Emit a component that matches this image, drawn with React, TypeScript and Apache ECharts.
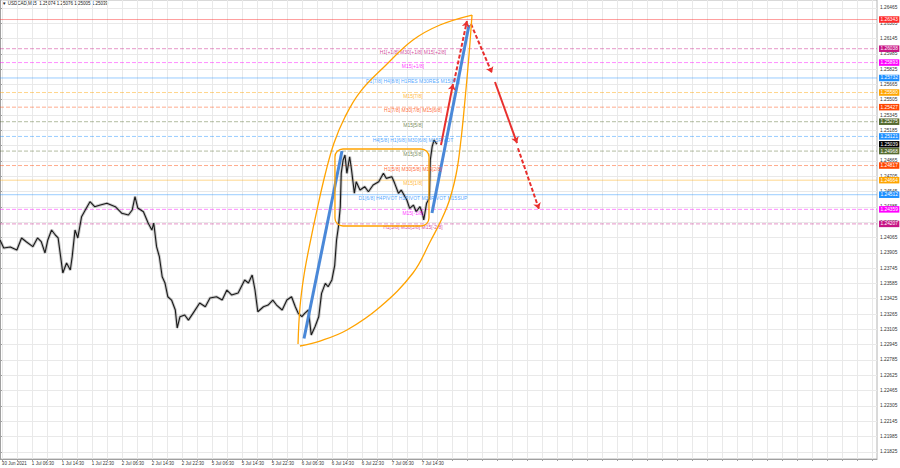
import React, { useEffect, useRef } from 'react';
import * as echarts from 'echarts';

const FONT = 'Liberation Sans';

const titleText = '▼ USDCAD,M15  1.25074 1.25076 1.25005 1.25039';

const xLabels = ['30 Jun 2021', '1 Jul 06:30', '1 Jul 14:30', '1 Jul 22:30', '2 Jul 06:30', '2 Jul 14:30', '2 Jul 22:30', '5 Jul 06:30', '5 Jul 14:30', '5 Jul 22:30', '6 Jul 06:30', '6 Jul 14:30', '6 Jul 22:30', '7 Jul 06:30', '7 Jul 14:30'];

const yTicks = [1.21825, 1.21985, 1.22145, 1.22305, 1.22465, 1.22625, 1.22785, 1.22945, 1.23105, 1.23265, 1.23425, 1.23585, 1.23745, 1.23905, 1.24065, 1.24225, 1.24385, 1.24545, 1.24705, 1.24865, 1.25025, 1.25185, 1.25345, 1.25505, 1.25665, 1.25825, 1.25985, 1.26145, 1.26305, 1.26465];

// M15 bar index, price
const pricePath: [number, number][] = [
  [0, 1.24039], [4, 1.23955], [11, 1.23965], [18, 1.23934], [23, 1.2406], [28, 1.24021], [35, 1.23969], [40, 1.2406],
  [44, 1.24021], [48, 1.23903], [51, 1.24039], [55, 1.24143], [59, 1.24091], [62, 1.2406], [67, 1.23694], [71, 1.23798],
  [75, 1.23725], [77, 1.23864], [80, 1.24143], [83, 1.2406], [87, 1.24282], [91, 1.24352], [96, 1.24439], [101, 1.24387],
  [107, 1.24404], [114, 1.24422], [123, 1.24387], [130, 1.24318], [137, 1.243], [141, 1.24352], [144, 1.24491], [147, 1.24373],
  [153, 1.24334], [158, 1.24216], [162, 1.24143], [164, 1.24216], [167, 1.23969], [170, 1.23864], [173, 1.23655], [176, 1.23589],
  [179, 1.23446], [183, 1.23411], [187, 1.23307], [189, 1.23119], [192, 1.23237], [197, 1.23255], [201, 1.23201], [206, 1.23275],
  [213, 1.2338], [219, 1.23341], [224, 1.23432], [231, 1.23446], [237, 1.23411], [242, 1.23516], [247, 1.23464], [254, 1.23485],
  [261, 1.23621], [265, 1.23589], [269, 1.23673], [272, 1.23516], [275, 1.23289], [281, 1.23341], [286, 1.23359], [291, 1.23411],
  [295, 1.23359], [301, 1.23307], [306, 1.23411], [311, 1.23446], [315, 1.23341], [318, 1.23275], [322, 1.23237], [325, 1.23272],
  [329, 1.23307], [332, 1.23046], [336, 1.23132], [340, 1.23237], [343, 1.23481], [347, 1.23586], [350, 1.2355], [354, 1.23621],
  [357, 1.23771], [359, 1.24039], [361, 1.24178], [363, 1.24387], [364, 1.24736], [366, 1.24875], [368, 1.24927], [370, 1.24736],
  [373, 1.24909], [375, 1.2477], [378, 1.24527], [380, 1.24648], [384, 1.24561], [389, 1.24596], [393, 1.24543], [398, 1.24613],
  [404, 1.24648], [409, 1.24736], [412, 1.24683], [418, 1.247], [421, 1.24631], [425, 1.24527], [428, 1.24561], [434, 1.24457],
  [437, 1.2437], [441, 1.24404], [444, 1.24334], [448, 1.24387], [451, 1.243], [452, 1.24248], [455, 1.24422], [458, 1.24474],
  [459, 1.24875], [461, 1.25014], [463, 1.25084], [466, 1.25039],
];

const levelValues = [1.26343, 1.26038, 1.25893, 1.25732, 1.2558, 1.25427, 1.25275, 1.25121, 1.25039, 1.24968, 1.24817, 1.24664, 1.24512, 1.24359, 1.24207];
const levelNames = ['', 'H1[+1/8] M30[+1/8] M15[+2/8]', 'M15[+1/8]', 'D1[7/8] H4[8/8] H1RES M30RES M15[8/8]', 'M15[7/8]', 'H1[7/8] M30[7/8] M15[6/8]', 'M15[5/8]', 'H4[5/8] H1[6/8] M30[6/8] M15PIVOT', '', 'M15[3/8]', 'H1[5/8] M30[5/8] M15[2/8]', 'M15[1/8]', 'D1[6/8] H4PIVOT H1PIVOT M30PIVOT M15SUP', 'M15[-1/8]', 'H1[3/8] M30[3/8] M15[-2/8]'];
const levelColors = ['#ff2a2a', '#c71585', '#ff00ff', '#1e90ff', '#ffa500', '#ff4500', '#556b2f', '#1e90ff', '#000000', '#556b2f', '#ff4500', '#ffa500', '#1e90ff', '#ff00ff', '#c71585'];
const levelSolid = [true, false, false, true, false, false, false, false, true, false, false, true, true, false, false];
const levelLineShown = [true, true, true, true, true, true, true, true, false, true, true, true, true, true, true];
const levelTextBar = 440.5;

const outerCurveA: [number, number][] = [
  [317.9, 1.22952], [320.0, 1.23338], [324.3, 1.23673], [330.7, 1.24007], [338.1, 1.24352], [346.7, 1.24718], [356.3, 1.25052],
  [368.0, 1.25324], [384.0, 1.25585], [410.7, 1.25857], [440.5, 1.26129], [469.3, 1.26286], [503.5, 1.2639],
];
const outerCurveB: [number, number][] = [
  [320.0, 1.22931], [341.3, 1.22983], [370.1, 1.23098], [405.3, 1.23338], [440.5, 1.23694], [458.7, 1.24018], [476.8, 1.24383],
  [486.4, 1.24718], [491.7, 1.25084], [496.0, 1.25502], [500.3, 1.25972], [503.5, 1.2639],
];
const rangeBox = [357.3, 1.2499, 457.6, 1.24185];

const blueSegments: [number, number, number, number][] = [
  [324.3, 1.23009, 364.8, 1.24969],
  [460.8, 1.24321, 500.3, 1.26286],
];
// x1, y1, x2, y2, dashed
const redSegments: [number, number, number, number, boolean][] = [
  [470.4, 1.25031, 483.2, 1.25669, false],
  [484.3, 1.2569, 498.1, 1.26328, true],
  [502.4, 1.26296, 524.8, 1.25784, true],
  [528.0, 1.2569, 551.5, 1.25052, false],
  [552.5, 1.24998, 574.9, 1.24363, true],
];

export default function App() {
  const ref = useRef<HTMLDivElement>(null);
  useEffect(() => {
    const chart = echarts.init(ref.current!, null, { renderer: 'svg' });
    const xLabelBars = xLabels.map((_, i) => 2 + 32 * i);
    const xGridBars: number[] = [];
    for (let b = 2; b <= 935; b += 16) xGridBars.push(b);

    const option: any = {
      animation: false,
      backgroundColor: '#ffffff',
      textStyle: { fontFamily: FONT },
      grid: { left: 0, top: 0, right: 23, bottom: 9, containLabel: false, outerBoundsMode: 'none', show: true, borderColor: '#b4b4b4', borderWidth: 1 },
      graphic: [
        { type: 'text', left: 2, top: 1, style: { text: titleText, fontSize: 4.5, fontFamily: FONT, fill: '#222' } },
      ],
      xAxis: {
        type: 'value', min: 0, max: 935.5,
        axisLine: { show: true, lineStyle: { color: '#a0a0a0' } },
        axisTick: { show: true, length: 2, customValues: xGridBars, lineStyle: { color: '#a0a0a0' } },
        axisLabel: {
          show: true, customValues: xLabelBars, align: 'left', margin: 2, fontSize: 4.5, color: '#333', fontFamily: FONT,
          formatter: (v: number) => xLabels[Math.round((v - 2) / 32)] ?? '',
        },
        splitLine: { show: true, lineStyle: { color: '#e9e9e9', width: 1 } },
      },
      yAxis: {
        type: 'value', position: 'right', min: 1.2175, max: 1.26547, scale: true,
        axisLine: { show: true, lineStyle: { color: '#a0a0a0' } },
        axisTick: { show: true, length: 2, customValues: yTicks, lineStyle: { color: '#a0a0a0' } },
        axisLabel: {
          show: true, customValues: yTicks, margin: 3, fontSize: 4.8, color: '#333', fontFamily: FONT,
          formatter: (v: number) => v.toFixed(5),
        },
        splitLine: { show: true, lineStyle: { color: '#e9e9e9', width: 1 } },
      },
      series: [
        {
          type: 'custom', z: 1, silent: true, clip: false,
          data: levelValues.map((v, i) => [levelTextBar, v, i]),
          renderItem: (params: any, api: any) => {
            const v = api.value(1);
            const i = api.value(2);
            const y = api.coord([levelTextBar, v])[1];
            const cs = params.coordSys;
            const color = levelColors[i];
            const children: any[] = [];
            if (levelLineShown[i]) {
              children.push({
                type: 'line', z2: 1,
                shape: { x1: cs.x, y1: y, x2: cs.x + cs.width, y2: y },
                style: { stroke: color, lineWidth: 1, lineDash: levelSolid[i] ? null : [4, 2], opacity: 0.45 },
              });
            }
            children.push({
              type: 'text', z2: 20,
              x: cs.x + cs.width + 2, y,
              style: {
                text: v.toFixed(5), fill: '#ffffff', backgroundColor: color, padding: [1, 1.5, 0.5, 1.5],
                fontSize: 4.8, fontFamily: FONT, align: 'left', verticalAlign: 'middle',
              },
            });
            return { type: 'group', children };
          },
        },
        {
          type: 'line', data: pricePath, showSymbol: false, z: 3, silent: true,
          lineStyle: { color: 'rgba(40,40,40,0.25)', width: 3 },
        },
        {
          type: 'line', data: pricePath, showSymbol: false, z: 4, silent: true,
          lineStyle: { color: '#1a1a1a', width: 1.1 },
        },
        {
          type: 'scatter', z: 5, silent: true, symbolSize: 1,
          itemStyle: { color: 'rgba(0,0,0,0)' },
          data: levelValues.map((v, i) => ({
            value: [levelTextBar, v],
            label: {
              show: levelNames[i] !== '', formatter: levelNames[i], position: 'bottom', distance: 0.3,
              color: levelColors[i], fontSize: 5, fontFamily: FONT,
            },
          })),
        },
        {
          type: 'line', data: outerCurveA, showSymbol: false, smooth: 0.4, z: 6, silent: true,
          lineStyle: { color: '#ffa300', width: 1.3 },
        },
        {
          type: 'line', data: outerCurveB, showSymbol: false, smooth: 0.4, z: 6, silent: true,
          lineStyle: { color: '#ffa300', width: 1.3 },
        },
        {
          type: 'custom', z: 6, silent: true, data: [rangeBox],
          renderItem: (params: any, api: any) => {
            const p1 = api.coord([api.value(0), api.value(1)]);
            const p2 = api.coord([api.value(2), api.value(3)]);
            return {
              type: 'rect',
              shape: { x: p1[0], y: p1[1], width: p2[0] - p1[0], height: p2[1] - p1[1], r: 8 },
              style: { fill: 'none', stroke: '#ffa300', lineWidth: 1.3 },
            };
          },
        },
        {
          type: 'line', data: [], silent: true, z: 7,
          markLine: {
            silent: true, symbol: ['none', 'none'], animation: false,
            data: blueSegments.map((s) => [
              { coord: [s[0], s[1]], lineStyle: { color: '#4a88d8', width: 3, type: 'solid' }, label: { show: false } },
              { coord: [s[2], s[3]], lineStyle: { color: '#4a88d8', width: 3, type: 'solid' }, label: { show: false } },
            ]),
          },
        },
        {
          type: 'line', data: [], silent: true, z: 8,
          markLine: {
            silent: true, symbol: ['none', 'arrow'], symbolSize: 6, animation: false,
            data: redSegments.map((s) => [
              { coord: [s[0], s[1]], symbol: 'none', lineStyle: { color: '#e8302e', width: 2, type: s[4] ? [4, 2] : 'solid' }, label: { show: false } },
              { coord: [s[2], s[3]], symbol: 'arrow', symbolSize: 6, itemStyle: { color: '#e8302e' }, lineStyle: { color: '#e8302e', width: 2, type: s[4] ? [4, 2] : 'solid' }, label: { show: false } },
            ]),
          },
        },
      ],
    };
    chart.setOption(option);
    return () => chart.dispose();
  }, []);
  return <div ref={ref} style={{ position: 'fixed', left: 0, top: 0, width: 900, height: 468, background: '#fff' }} />;
}
